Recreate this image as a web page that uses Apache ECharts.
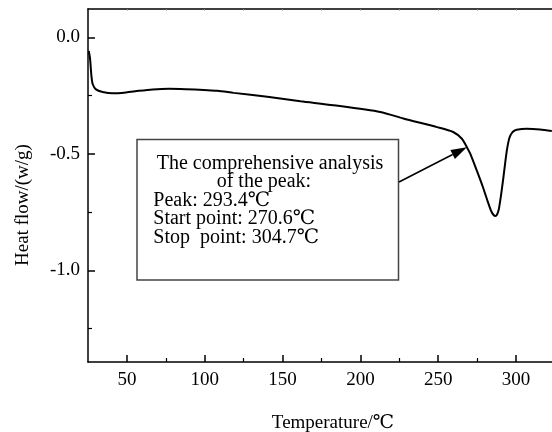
<!DOCTYPE html>
<html>
<head>
<meta charset="utf-8">
<script src="https://cdn.jsdelivr.net/npm/echarts@6/dist/echarts.min.js"></script>
<style>html,body{margin:0;padding:0;background:#fff}#c{width:552px;height:432px}</style>
</head>
<body>
<div id="c"></div>
<script>
// Temperature (°C) and heat flow (w/g)
var temperature = [25.5, 26.3, 27.2, 28.0, 30.1, 34.4, 40.8, 49.4, 57.7, 66.5, 76.9, 87.8, 99.4, 108.1, 118.6, 140.2, 161.5, 182.7, 212.8, 227.6, 249.2, 259.6, 265.2, 268.4, 270.5, 274.8, 278.8, 282.0, 284.0, 285.6, 286.7, 287.8, 289.0, 290.3, 291.7, 293.0, 294.1, 295.2, 296.1, 297.3, 298.5, 300.4, 306.8, 315.4, 323.0];
var heatFlow   = [-0.058, -0.090, -0.165, -0.200, -0.223, -0.234, -0.240, -0.236, -0.229, -0.223, -0.220, -0.222, -0.226, -0.229, -0.238, -0.255, -0.274, -0.291, -0.320, -0.348, -0.385, -0.406, -0.435, -0.471, -0.498, -0.572, -0.644, -0.708, -0.745, -0.762, -0.766, -0.760, -0.735, -0.680, -0.610, -0.540, -0.485, -0.445, -0.425, -0.410, -0.402, -0.396, -0.392, -0.395, -0.402];
var xMajorTicks = [50, 100, 150, 200, 250, 300];
var xMinorTicks = [75, 125, 175, 225, 275];
var xTopTicks = [50, 75, 100, 125, 150, 175, 200, 225, 250, 275, 300];
var yMajorTicks = [0, -0.5, -1.0];
var yMinorTicks = [-0.25, -0.75, -1.25];
var annotationLines = ['The comprehensive analysis', 'of the peak:', 'Peak: 293.4\u2103', 'Start point: 270.6\u2103', 'Stop  point: 304.7\u2103'];
var arrowTarget = [268.4, -0.471];
var xTitle = 'Temperature/\u2103';
var yTitle = 'Heat flow/(w/g)';

var FONT = '"Liberation Serif", "Times New Roman", "DejaVu Serif", serif';
var points = temperature.map(function (t, i) { return [t, heatFlow[i]]; });
var XMIN = 25, XMAX = 323.1, YMIN = -1.393, YMAX = 0.122;

function xAxisBase(extra) {
  var a = {
    type: 'value', min: XMIN, max: XMAX, position: 'bottom',
    splitLine: { show: false },
    axisLine: { show: true, onZero: false, lineStyle: { color: '#000', width: 1.5 } },
    axisTick: { show: false },
    axisLabel: { show: false }
  };
  for (var k in extra) a[k] = extra[k];
  return a;
}
function yAxisBase(extra) {
  var a = {
    type: 'value', min: YMIN, max: YMAX, position: 'left',
    splitLine: { show: false },
    axisLine: { show: true, onZero: false, lineStyle: { color: '#000', width: 1.5 } },
    axisTick: { show: false },
    axisLabel: { show: false }
  };
  for (var k in extra) a[k] = extra[k];
  return a;
}

var chart = echarts.init(document.getElementById('c'), null, { renderer: 'canvas' });
var option = {
  backgroundColor: '#fff',
  animation: false,
  grid: { left: 88, top: 9, right: 0, bottom: 70, containLabel: false },
  xAxis: [
    xAxisBase({
      axisTick: { show: true, inside: true, length: 7, customValues: xMajorTicks, lineStyle: { color: '#000', width: 1.5 } },
      axisLabel: { show: true, customValues: xMajorTicks, margin: 9, color: '#000', fontFamily: FONT, fontSize: 19,
        formatter: function (v) { return String(Math.round(v)); } }
    }),
    xAxisBase({
      axisLine: { show: false, onZero: false },
      axisTick: { show: true, inside: true, length: 4, customValues: xMinorTicks, lineStyle: { color: '#000', width: 1.2 } }
    }),
    xAxisBase({
      position: 'top',
      axisTick: { show: true, inside: true, length: 1.5, customValues: xTopTicks, lineStyle: { color: '#888', width: 1 } }
    })
  ],
  yAxis: [
    yAxisBase({
      axisTick: { show: true, inside: true, length: 7, customValues: yMajorTicks, lineStyle: { color: '#000', width: 1.5 } },
      axisLabel: { show: true, customValues: yMajorTicks, margin: 8, color: '#000', fontFamily: FONT, fontSize: 19,
        formatter: function (v) { return v.toFixed(1); } }
    }),
    yAxisBase({
      axisLine: { show: false, onZero: false },
      axisTick: { show: true, inside: true, length: 4, customValues: yMinorTicks, lineStyle: { color: '#000', width: 1.2 } }
    })
  ],
  series: [{
    type: 'line',
    data: points,
    xAxisIndex: 0, yAxisIndex: 0,
    smooth: 0.25,
    showSymbol: false,
    symbol: 'none',
    lineStyle: { color: '#000', width: 2 },
    clip: true
  }],
  graphic: []
};
chart.setOption(option);

var tip = chart.convertToPixel({ xAxisIndex: 0, yAxisIndex: 0 }, arrowTarget);
var start = [399, 182];
var dx = tip[0] - start[0], dy = tip[1] - start[1];
var len = Math.sqrt(dx * dx + dy * dy);
var ux = dx / len, uy = dy / len;
var headLen = 16, headW = 5;
var baseX = tip[0] - ux * headLen, baseY = tip[1] - uy * headLen;
var px = -uy, py = ux;

var lineX = [156.7, 216.7, 153.3, 153.3, 153.3];
var lineY = [163.5, 182, 200.5, 219, 237.5];
var g = [
  { type: 'rect', shape: { x: 137, y: 139.5, width: 261.5, height: 140.5 },
    style: { fill: '#fff', stroke: '#444', lineWidth: 1.5 }, z: 100 },
  { type: 'line', shape: { x1: start[0], y1: start[1], x2: baseX, y2: baseY },
    style: { stroke: '#000', lineWidth: 1.5 }, z: 100 },
  { type: 'polygon', shape: { points: [[tip[0], tip[1]], [baseX + px * headW, baseY + py * headW], [baseX - px * headW, baseY - py * headW]] },
    style: { fill: '#000' }, z: 100 },
  { type: 'text', x: 333, y: 423, style: { text: xTitle, font: '19px ' + FONT, fill: '#000', align: 'center', verticalAlign: 'middle' }, z: 100 },
  { type: 'text', x: 23, y: 205, rotation: Math.PI / 2, style: { text: yTitle, font: '19px ' + FONT, fill: '#000', align: 'center', verticalAlign: 'middle' }, z: 100 }
];
annotationLines.forEach(function (t, i) {
  g.push({ type: 'text', x: lineX[i], y: lineY[i], style: { text: t, font: '20px ' + FONT, fill: '#000', align: 'left', verticalAlign: 'middle' }, z: 101 });
});
chart.setOption({ graphic: g });
</script>
</body>
</html>
